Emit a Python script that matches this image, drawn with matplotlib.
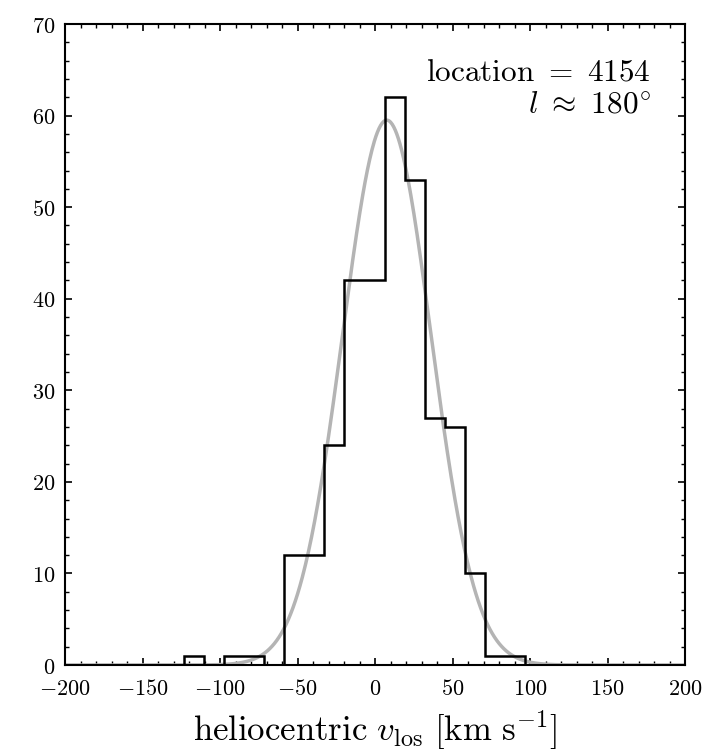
import numpy as np
from matplotlib import pyplot as plt
from matplotlib.ticker import MultipleLocator, FuncFormatter

# Histogram of line-of-sight velocities (bin edges in km/s, counts per bin)
bin_edges = [-123.45, -110.5, -97.55, -84.6, -71.65, -58.7, -45.75, -32.8,
             -19.85, -6.9, 6.05, 19.0, 31.95, 44.9, 57.85, 70.8, 83.75, 96.7]
counts = [1, 0, 1, 1, 0, 12, 12, 24, 42, 42, 62, 53, 27, 26, 10, 1, 1]

# Gaussian fit to the distribution
fit_mean = 7.5
fit_sigma = 28.5
fit_peak = 59.5

location_id = 4154
longitude = 180

plt.rcParams.update({
    'mathtext.fontset': 'cm',
    'font.family': 'serif',
    'font.serif': ['DejaVu Serif'],
    'axes.linewidth': 1.5,
})

dpi = 100
fig = plt.figure(figsize=(7.28, 7.51), dpi=dpi)
ax = fig.add_axes([0.0893, 0.1145, 0.852, 0.8535])

ax.stairs(counts, bin_edges, baseline=0, color='black', linewidth=1.8, zorder=3)

v = np.linspace(-200, 200, 801)
ax.plot(v, fit_peak * np.exp(-0.5 * ((v - fit_mean) / fit_sigma) ** 2),
        color='#b4b4b4', linewidth=2.5, zorder=2)

ax.set_xlim(-200, 200)
ax.set_ylim(0, 70)
ax.xaxis.set_major_locator(MultipleLocator(50))
ax.xaxis.set_minor_locator(MultipleLocator(10))
ax.yaxis.set_major_locator(MultipleLocator(10))
ax.yaxis.set_minor_locator(MultipleLocator(2))

# Computer Modern tick labels via mathtext
cm_fmt = FuncFormatter(lambda x, pos: r'$%d$' % round(x))
ax.xaxis.set_major_formatter(cm_fmt)
ax.yaxis.set_major_formatter(cm_fmt)

ax.tick_params(which='both', direction='in', top=True, right=True,
               labelsize=16)
ax.tick_params(axis='x', pad=9)
ax.tick_params(axis='y', pad=7)
ax.tick_params(which='major', length=5, width=1.2)
ax.tick_params(which='minor', length=3, width=1.0)

ax.set_xlabel(r'$\mathrm{heliocentric}\ v_{\mathrm{los}}\ [\mathrm{km\ s^{-1}}]$',
              fontsize=25, labelpad=6)

ax.text(0.945, 0.9126, r'$\mathrm{location}\ =\ %d$' % location_id,
        transform=ax.transAxes, ha='right', va='baseline', fontsize=22.5)
ax.text(0.945, 0.8627, r'$l\ \approx\ %d^{\circ}$' % longitude,
        transform=ax.transAxes, ha='right', va='baseline', fontsize=22.5)

fig.savefig('out.png', dpi=dpi)
